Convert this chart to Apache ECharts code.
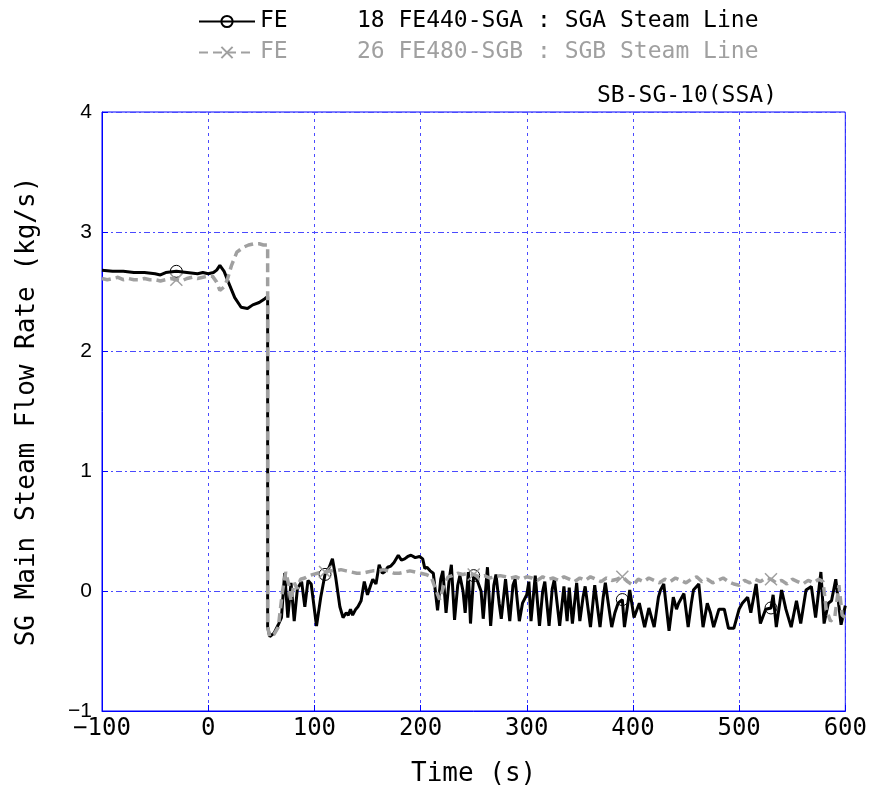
<!DOCTYPE html>
<html><head><meta charset="utf-8">
<script src="https://cdn.jsdelivr.net/npm/echarts@6/dist/echarts.min.js"></script>
<style>html,body{margin:0;padding:0;background:#fff}#c{width:870px;height:796px}</style>
</head><body><div id="c"></div>
<script>
// ---- data ----
var nameA = 'FE     18 FE440-SGA : SGA Steam Line';
var nameB = 'FE     26 FE480-SGB : SGB Steam Line';
var chartTitle = 'SB-SG-10(SSA)';
var xName = 'Time (s)';
var yName = 'SG Main Steam Flow Rate (kg/s)';
var xTicks = [-100, 0, 100, 200, 300, 400, 500, 600];
var yTicks = [-1, 0, 1, 2, 3, 4];
var markTimes = [-30, 110, 250, 390, 530];

var tA = [-100,-90,-80,-70,-60,-50,-45,-40,-30,-20,-10,-5,0,5,8,11,15,19,25,31,37,42,48,53,56,
  56,58,62,66,69,72,75,78,81,84,88,91,94,97,102,106,110,114,117,120,124,127,130,132,134,136,139,141,144,147,150,153,155,158,161,164,166,169,172,175,179,182,185,188,191,195,199,202,204,206,209,212,216,219,221,224,227,229,232,235,237,240,242,245,247,250,253,257,259,263,266,269,271,274,276,280,284,287,289,293,296,300,302,304,308,312,315,317,321,324,326,331,335,338,340,343,347,350,353,355,360,364,369,372,374,380,383,386,390,392,397,401,406,411,415,420,424,426,429,434,438,441,443,448,452,455,457,462,466,470,473,476,481,486,490,495,500,503,508,511,516,520,525,530,532,535,540,544,549,554,558,563,568,572,577,580,584,587,591,596,600];
var vA = [2.68,2.67,2.67,2.66,2.66,2.65,2.64,2.66,2.67,2.66,2.65,2.66,2.65,2.66,2.68,2.72,2.67,2.58,2.45,2.37,2.36,2.39,2.41,2.44,2.46,
  -0.3,-0.38,-0.35,-0.28,-0.22,0.15,-0.22,0.07,-0.25,0.02,0.08,-0.13,0.09,0.06,-0.29,-0.05,0.14,0.2,0.27,0.12,-0.13,-0.22,-0.18,-0.2,-0.15,-0.2,-0.15,-0.13,-0.08,0.08,-0.03,0.05,0.1,0.06,0.22,0.15,0.16,0.2,0.21,0.24,0.3,0.26,0.27,0.29,0.3,0.28,0.29,0.27,0.19,0.2,0.17,0.15,-0.16,0.1,0.17,-0.18,0.1,0.22,-0.24,0.05,0.13,0.0,-0.18,0.16,-0.27,0.13,0.1,0.0,-0.23,0.2,-0.29,0.05,0.14,-0.1,-0.23,0.1,-0.25,0.05,0.1,-0.25,-0.1,-0.03,0.08,-0.25,0.13,-0.29,0.0,0.08,-0.29,0.02,0.1,-0.29,0.04,-0.25,0.03,-0.27,0.07,-0.25,-0.05,0.04,-0.3,0.05,-0.3,-0.05,0.07,-0.3,-0.18,-0.1,-0.07,-0.3,0.01,-0.22,-0.1,-0.3,-0.14,-0.3,-0.05,0.01,0.06,-0.33,-0.05,-0.15,-0.1,-0.02,-0.3,-0.1,0.01,0.06,-0.3,-0.1,-0.18,-0.3,-0.15,-0.15,-0.31,-0.31,-0.15,-0.1,-0.05,-0.18,0.06,-0.27,-0.15,-0.14,-0.03,-0.3,0.01,-0.15,-0.3,-0.08,-0.27,0.01,0.04,-0.22,0.16,-0.27,-0.1,-0.08,0.1,-0.28,-0.12];

var tB = [-100,-95,-90,-85,-80,-75,-70,-65,-60,-55,-50,-45,-40,-35,-30,-25,-20,-15,-10,-5,0,4,8,11,15,18,22,27,33,38,43,48,52,56,
  56,58,62,66,70,73,76,78,81,84,87,91,95,99,103,107,110,116,120,125,130,135,140,145,150,155,160,165,170,175,180,185,190,195,200,205,210,214,218,222,226,230,235,240,245,250,255,260,265,270,275,280,285,290,295,300,305,310,315,320,325,330,335,340,345,350,355,360,365,370,375,380,385,390,395,400,405,410,415,420,425,430,435,440,445,450,455,460,465,470,475,480,485,490,495,500,505,510,515,520,525,530,535,540,545,550,555,560,565,570,575,579,582,586,590,594,597,600];
var vB = [2.61,2.6,2.61,2.62,2.6,2.61,2.6,2.6,2.61,2.6,2.6,2.59,2.6,2.61,2.6,2.59,2.61,2.62,2.61,2.62,2.63,2.63,2.58,2.51,2.54,2.6,2.72,2.83,2.87,2.89,2.9,2.9,2.89,2.89,
  -0.3,-0.38,-0.36,-0.3,0.0,0.16,0.05,-0.08,0.07,0.02,0.1,0.11,0.13,0.14,0.15,0.16,0.16,0.17,0.17,0.18,0.17,0.16,0.15,0.15,0.16,0.17,0.17,0.18,0.17,0.15,0.15,0.16,0.17,0.16,0.15,0.14,0.12,0.02,-0.07,0.05,0.12,0.13,0.15,0.14,0.15,0.14,0.12,0.13,0.11,0.12,0.13,0.12,0.11,0.12,0.1,0.12,0.11,0.09,0.12,0.1,0.11,0.09,0.12,0.1,0.08,0.11,0.09,0.12,0.1,0.08,0.11,0.09,0.1,0.12,0.08,0.05,0.1,0.08,0.11,0.09,0.07,0.1,0.08,0.11,0.09,0.07,0.1,0.12,0.08,0.1,0.07,0.09,0.11,0.08,0.06,0.05,0.09,0.07,0.1,0.08,0.11,0.1,0.07,0.09,0.06,0.1,0.08,0.06,0.09,0.07,0.1,0.08,-0.15,-0.25,-0.22,0.05,-0.2,-0.22];

// ---- build ----
function pairs(t, v) { var d = []; for (var i = 0; i < t.length; i++) d.push([t[i], v[i]]); return d; }
var mono = '"DejaVu Sans Mono", "Liberation Mono", monospace';
function minus(v) { return String(v).replace('-', '\u2212'); }
var markSize = function (val) { return markTimes.indexOf(val[0]) >= 0 ? 12 : 0; };
var xPath = 'path://M0,0L10,10M10,0L0,10';
var gridBlue = '#4a4aff';

var chart = echarts.init(document.getElementById('c'), null, { renderer: 'canvas' });
chart.setOption({
  animation: false,
  backgroundColor: '#fff',
  title: {
    text: chartTitle, right: 88, top: 80,
    textStyle: { fontFamily: mono, fontSize: 23, fontWeight: 'normal', color: '#000' }
  },
  legend: {
    orient: 'vertical', left: 193, top: 5, itemWidth: 56, itemHeight: 14, itemGap: 8,
    data: [
      { name: nameA, textStyle: { color: '#000' } },
      { name: nameB, textStyle: { color: '#a0a0a0' } }
    ],
    textStyle: { fontFamily: mono, fontSize: 23 }
  },
  grid: { left: 102, right: 24, top: 112, bottom: 85, show: true, borderColor: '#0000ff', borderWidth: 1 },
  xAxis: {
    type: 'value', min: -100, max: 600, interval: 100,
    name: xName, nameLocation: 'middle', nameGap: 50,
    nameTextStyle: { fontFamily: mono, fontSize: 26, color: '#000' },
    axisLine: { show: true, onZero: false, lineStyle: { color: '#0000ff', width: 1 } },
    axisTick: { show: true, inside: true, length: 6, lineStyle: { color: '#0000ff' } },
    axisLabel: { fontFamily: mono, fontSize: 24, color: '#000', margin: 6, formatter: function (v) { return minus(v); } },
    splitLine: { show: true, lineStyle: { color: gridBlue, width: 1, type: [3, 4] } }
  },
  yAxis: {
    type: 'value', min: -1, max: 4, interval: 1,
    name: yName, nameLocation: 'middle', nameGap: 62, nameRotate: 90,
    nameTextStyle: { fontFamily: mono, fontSize: 26, color: '#000' },
    axisLine: { show: true, onZero: false, lineStyle: { color: '#0000ff', width: 1 } },
    axisTick: { show: true, inside: true, length: 6, lineStyle: { color: '#0000ff' } },
    axisLabel: { fontFamily: '"Liberation Sans", Arial, sans-serif', fontSize: 21, color: '#000', margin: 10, formatter: function (v) { return minus(v); } },
    splitLine: { show: true, lineStyle: { color: gridBlue, width: 1, type: [6, 3, 2, 3] } }
  },
  series: [
    {
      name: nameA, type: 'line', data: pairs(tA, vA),
      symbol: 'circle', symbolSize: markSize, showSymbol: true,
      lineStyle: { color: '#000', width: 3 },
      itemStyle: { color: 'rgba(255,255,255,0)', borderColor: '#000', borderWidth: 1 },
      z: 2
    },
    {
      name: nameB, type: 'line', data: pairs(tB, vB),
      symbol: xPath, symbolSize: markSize, showSymbol: true,
      lineStyle: { color: '#a0a0a0', width: 3.5, type: [9, 5] },
      itemStyle: { color: 'rgba(0,0,0,0)', borderColor: '#a0a0a0', borderWidth: 1.5 },
      z: 3
    }
  ]
});
</script>
</body></html>
